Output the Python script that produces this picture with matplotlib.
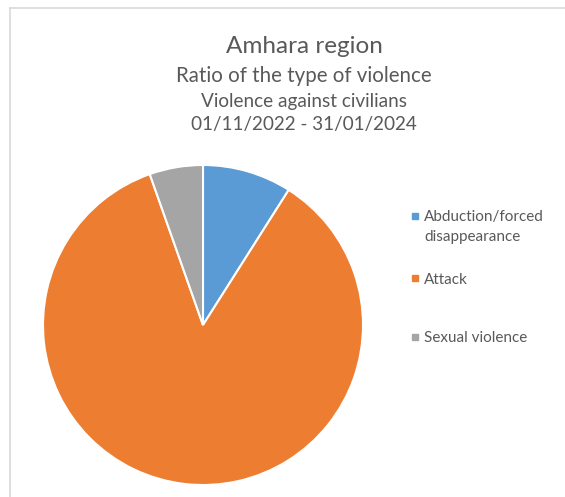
import matplotlib.pyplot as plt
from matplotlib.patches import Rectangle
from matplotlib.lines import Line2D

labels = ["Abduction/forced\ndisappearance", "Attack", "Sexual violence"]
values = [9.0, 85.6, 5.4]
colors = ["#5B9BD5", "#ED7D31", "#A5A5A5"]

title_lines = ["Amhara region", "Ratio of the type of violence",
               "Violence against civilians", "01/11/2022 - 31/01/2024"]

W, H = 565, 497
plt.rcParams['font.family'] = ['Lato', 'DejaVu Sans']
fig = plt.figure(figsize=(W / 100, H / 100), dpi=100)

def fx(px):
    return px / W

def fy(py):
    return 1 - py / H

# chart frame
fig.add_artist(Line2D([fx(10), fx(10)], [fy(8), 0], color="#d9d9d9", lw=1.2))
fig.add_artist(Line2D([fx(10), 1], [fy(8), fy(8)], color="#d9d9d9", lw=1.2))

# pie
ax = fig.add_axes([fx(43), fy(485), 320 / W, 320 / H])
ax.pie(values, colors=colors, startangle=90, counterclock=False,
       wedgeprops=dict(edgecolor="white", linewidth=1.5))
ax.set_xlim(-1.0, 1.0)
ax.set_ylim(-1.0, 1.0)
ax.set_aspect("equal")
ax.axis("off")

# titles (baselines in px)
sizes = [17.5, 14.8, 13.7, 13.6]
ys = [53, 82, 107, 130]
for t, s, y in zip(title_lines, sizes, ys):
    fig.text(fx(304), fy(y), t, ha="center", va="baseline", fontsize=s, color="#595959")

# legend
mark_y = [216, 278, 337]
for lab, c, y in zip(labels, colors, mark_y):
    fig.add_artist(Rectangle((fx(412), fy(y + 3)), 6 / W, 6 / H, color=c))
    for i, line in enumerate(lab.split("\n")):
        fig.text(fx(424), fy(y + 5.5 + 20 * i), line, ha="left", va="baseline",
                 fontsize=11, color="#595959")

fig.savefig("out.png", dpi=100)
